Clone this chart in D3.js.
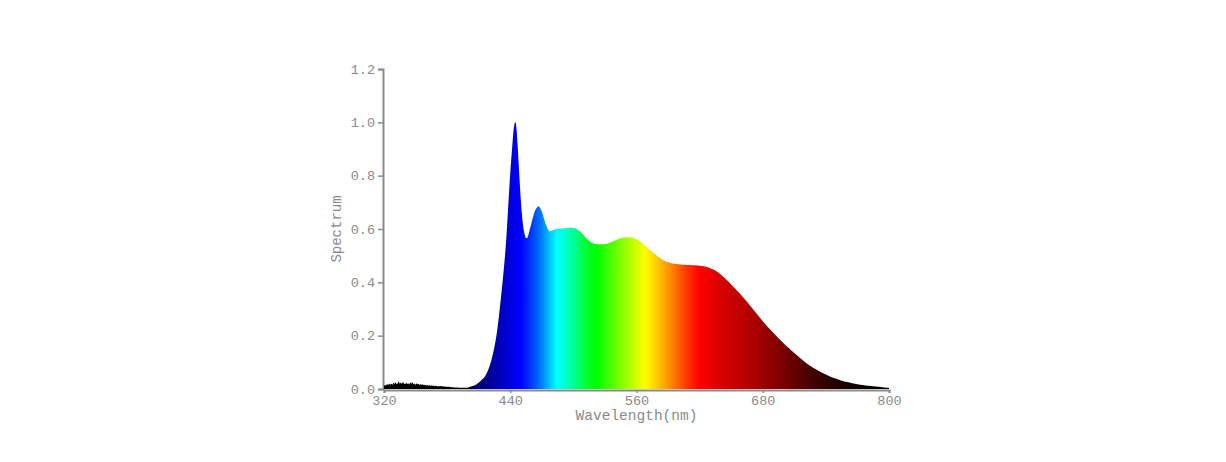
<!DOCTYPE html>
<html>
<head>
<meta charset="utf-8">
<script src="https://cdn.jsdelivr.net/npm/d3@7/dist/d3.min.js"></script>
<style>
  html, body { margin: 0; padding: 0; background: #fff; }
  svg { display: block; }
</style>
</head>
<body>
<svg id="chart" width="1226" height="462"></svg>
<script>
// ---- data ----
const wavelengths = [
  320,321,322,323,324,325,326,327,328,329,330,331,332,333,334,335,336,337,338,339,
  340,341,342,343,344,345,346,347,348,349,350,351,352,353,354,355,356,357,358,359,
  360,361,362,363,364,365,366,367,368,369,370,372,374,376,378,380,382,384,386,388,
  390,392,394,396,398,400,402,405,408,411,414,416,418,420,422,424,426,428,430,432,
  434,436,438,440,442,443,444,445,446,447,448,449,450,451,452,453,454,455,456,457,
  458,460,462,464,466,467,468,470,472,474,476,478,480,482,485,488,491,494,497,500,
  503,506,509,512,515,518,521,524,527,530,533,536,539,542,545,548,551,554,557,560,
  563,566,569,572,575,578,581,584,587,590,594,598,602,606,610,614,618,622,626,630,
  634,638,642,646,650,655,660,665,670,675,680,685,690,695,700,705,710,715,720,725,
  730,735,740,745,750,755,760,765,770,775,780,785,790,795,800
];
const spectrum = [
  0.010,0.016,0.013,0.019,0.015,0.021,0.017,0.020,0.016,0.023,0.019,0.025,0.018,0.022,0.028,0.020,0.024,0.019,0.026,0.021,
  0.018,0.023,0.019,0.022,0.017,0.024,0.020,0.025,0.018,0.021,0.016,0.022,0.018,0.020,0.015,0.019,0.016,0.018,0.014,0.017,
  0.013,0.016,0.012,0.015,0.011,0.014,0.012,0.013,0.010,0.012,0.011,0.010,0.011,0.009,0.009,0.008,0.008,0.007,0.007,0.006,
  0.006,0.005,0.005,0.005,0.005,0.006,0.008,0.012,0.018,0.027,0.038,0.048,0.062,0.082,0.108,0.140,0.180,0.232,0.300,0.375,
  0.455,0.550,0.680,0.810,0.915,0.965,0.993,1.000,0.972,0.915,0.845,0.775,0.712,0.660,0.620,0.593,0.575,0.566,0.566,0.575,
  0.590,0.620,0.650,0.672,0.683,0.685,0.682,0.666,0.640,0.615,0.598,0.592,0.594,0.598,0.601,0.602,0.603,0.604,0.605,0.604,
  0.600,0.592,0.580,0.566,0.556,0.548,0.544,0.543,0.543,0.544,0.546,0.551,0.556,0.561,0.565,0.568,0.569,0.569,0.567,0.562,
  0.555,0.546,0.535,0.524,0.514,0.504,0.495,0.487,0.480,0.475,0.471,0.469,0.467,0.466,0.465,0.464,0.463,0.461,0.458,0.453,
  0.446,0.436,0.423,0.408,0.392,0.371,0.350,0.327,0.303,0.278,0.254,0.232,0.211,0.190,0.171,0.153,0.135,0.118,0.101,0.087,
  0.075,0.064,0.054,0.045,0.038,0.031,0.026,0.022,0.018,0.015,0.012,0.010,0.008,0.006,0.005
];
const xTicks = [320, 440, 560, 680, 800];
const yTicks = [0, 0.2, 0.4, 0.6, 0.8, 1.0, 1.2];
const xLabel = "Wavelength(nm)";
const yLabel = "Spectrum";
// colour of the fill at given wavelengths
const colorStopNm = [320, 396, 408, 425, 440, 450, 460, 470, 484, 498, 512, 522, 545, 568, 580, 592, 606, 620, 640, 670, 700, 725, 750, 775, 800];
const colorStopCol = ["#000000","#000000","#000070","#0000a8","#0000e0","#0000ff","#0038ff","#0080ff","#00ffff","#00ffa8","#00ff30","#00ff00","#80ff00","#ffff00","#ffc800","#ff8c00","#ff4000","#ff0000","#d80000","#b00000","#780000","#480000","#200000","#080000","#000000"];

// ---- layout ----
const svg = d3.select("#chart");
const x = d3.scaleLinear().domain([320, 800]).range([384, 889]);
const y = d3.scaleLinear().domain([0, 1.2]).range([389, 69]);
const font = "'Liberation Mono', 'Courier New', monospace";
const grey = "#8a8a8a";

// gradient
const defs = svg.append("defs");
const grad = defs.append("linearGradient")
  .attr("id", "spec").attr("gradientUnits", "userSpaceOnUse")
  .attr("x1", x(320)).attr("x2", x(800)).attr("y1", 0).attr("y2", 0);
colorStopNm.forEach((nm, i) => {
  grad.append("stop").attr("offset", (nm - 320) / 480).attr("stop-color", colorStopCol[i]);
});

// axes
const yAxis = svg.append("g").attr("transform", `translate(${x(320) - 1},0)`)
  .call(d3.axisLeft(y).tickValues(yTicks).tickFormat(d3.format(".1f")).tickSize(5).tickPadding(3));
const xAxis = svg.append("g").attr("transform", `translate(0,${y(0) + 1})`)
  .call(d3.axisBottom(x).tickValues(xTicks).tickFormat(d3.format("d")).tickSize(3).tickPadding(2));
[yAxis, xAxis].forEach(g => {
  g.select(".domain").attr("stroke", grey).attr("stroke-width", 2);
  g.selectAll(".tick line").attr("stroke", grey).attr("stroke-width", 1.5);
  g.selectAll(".tick text").attr("fill", grey).style("font-family", font).style("font-size", "13.5px");
});

// area
const pts = wavelengths.map((w, i) => [w, spectrum[i]]);
const area = d3.area().x(d => x(d[0])).y0(y(0)).y1(d => y(d[1])).curve(d3.curveMonotoneX);
svg.append("path").datum(pts).attr("d", area).attr("fill", "url(#spec)");

// labels
svg.append("text").attr("x", (x(320) + x(800)) / 2).attr("y", 420)
  .attr("text-anchor", "middle").attr("fill", grey)
  .style("font-family", font).style("font-size", "14.5px").text(xLabel);
svg.append("text").attr("transform", `translate(341,${(y(0) + y(1.2)) / 2}) rotate(-90)`)
  .attr("text-anchor", "middle").attr("fill", grey)
  .style("font-family", font).style("font-size", "14px").text(yLabel);
</script>
</body>
</html>
